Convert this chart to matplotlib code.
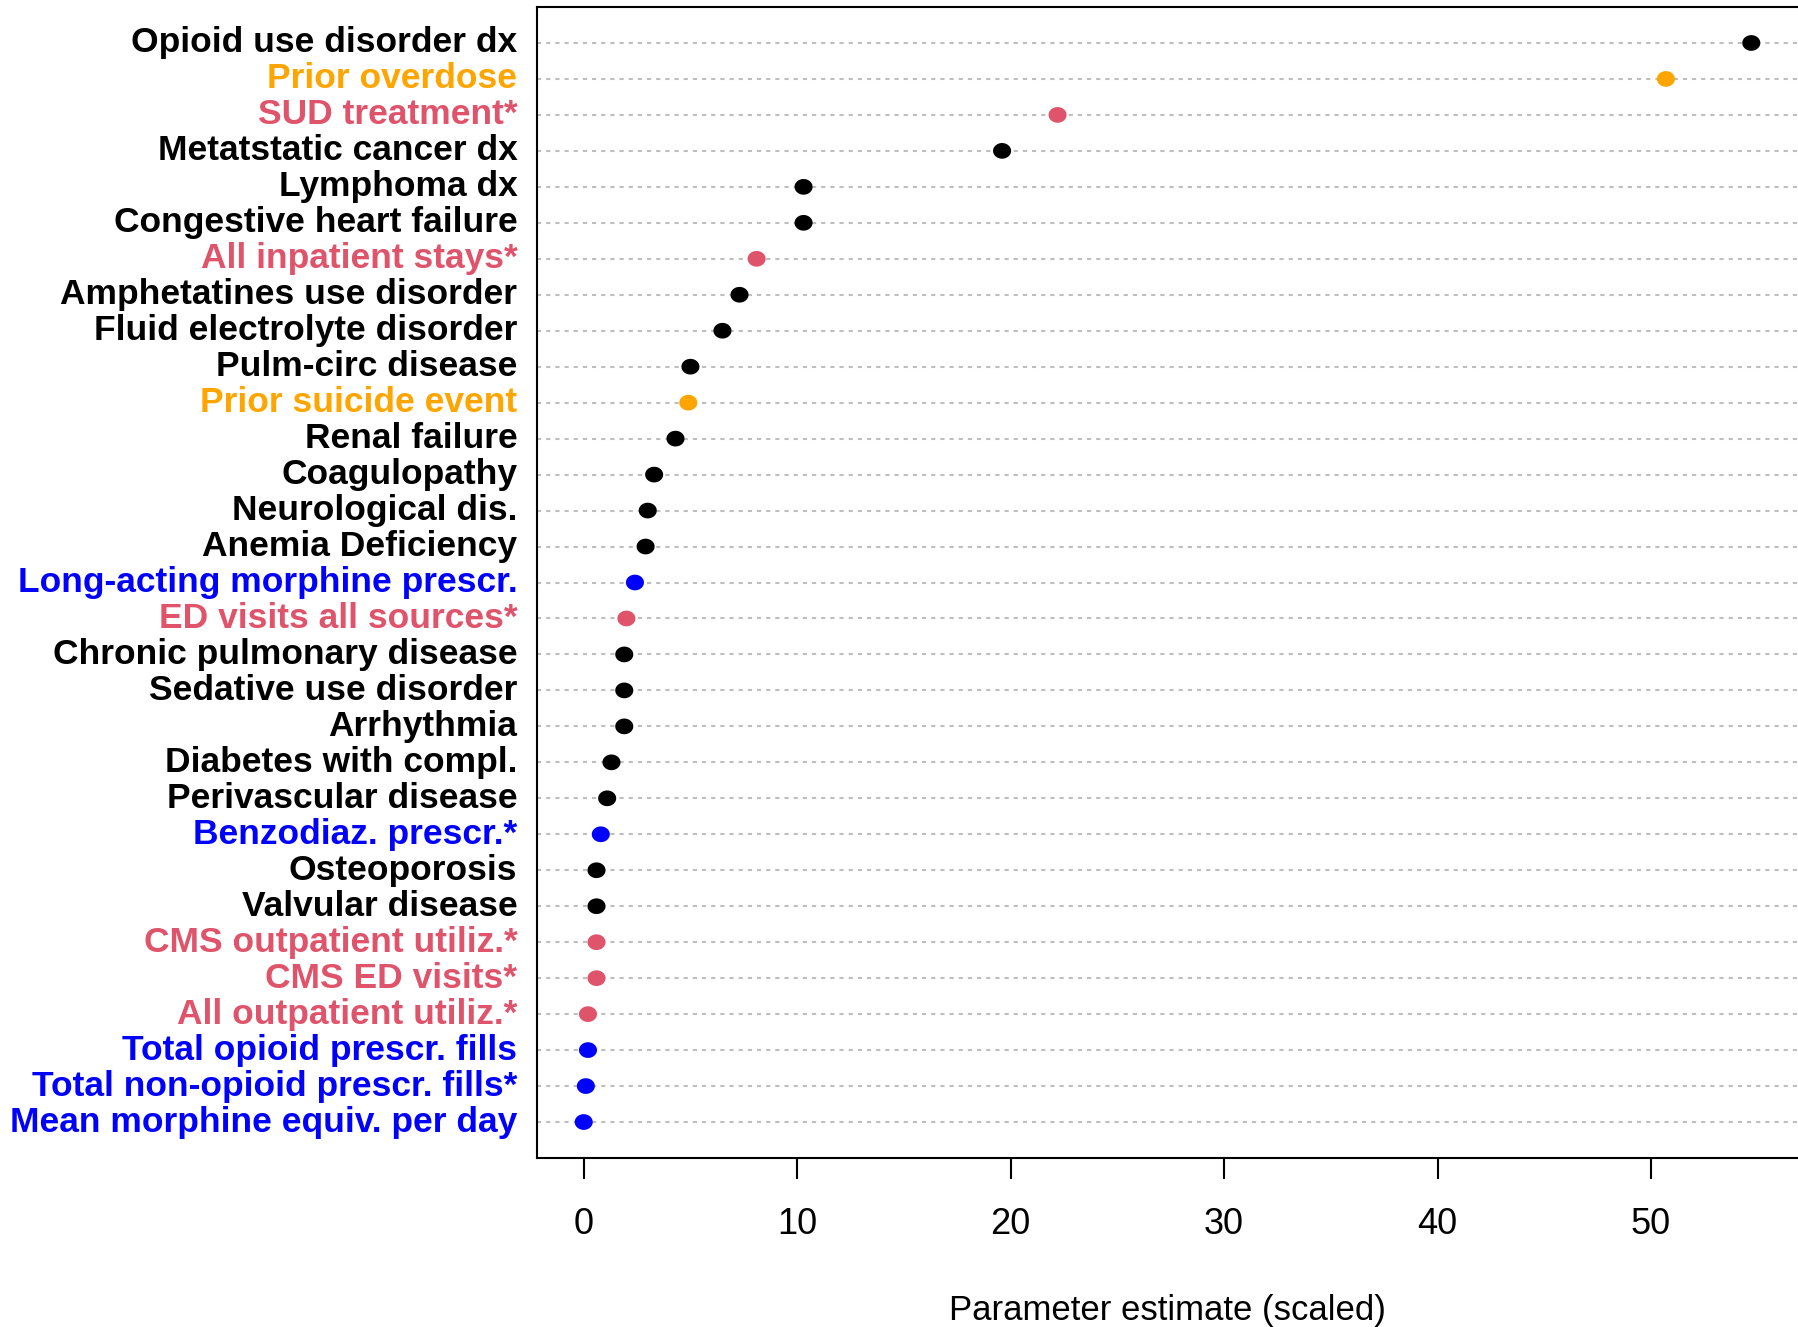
import numpy as np
import matplotlib
matplotlib.use('Agg')
import matplotlib.pyplot as plt
from matplotlib.path import Path

# rows from top to bottom
labels = [
    'Opioid use disorder dx', 'Prior overdose', 'SUD treatment*',
    'Metatstatic cancer dx', 'Lymphoma dx', 'Congestive heart failure',
    'All inpatient stays*', 'Amphetatines use disorder', 'Fluid electrolyte disorder',
    'Pulm-circ disease', 'Prior suicide event', 'Renal failure', 'Coagulopathy',
    'Neurological dis.', 'Anemia Deficiency', 'Long-acting morphine prescr.',
    'ED visits all sources*', 'Chronic pulmonary disease', 'Sedative use disorder',
    'Arrhythmia', 'Diabetes with compl.', 'Perivascular disease',
    'Benzodiaz. prescr.*', 'Osteoporosis', 'Valvular disease',
    'CMS outpatient utiliz.*', 'CMS ED visits*', 'All outpatient utiliz.*',
    'Total opioid prescr. fills', 'Total non-opioid prescr. fills*',
    'Mean morphine equiv. per day',
]
values = [
    54.7, 50.7, 22.2, 19.6, 10.3, 10.3, 8.1, 7.3, 6.5, 5.0, 4.9, 4.3, 3.3,
    3.0, 2.9, 2.4, 2.0, 1.9, 1.9, 1.9, 1.3, 1.1, 0.8, 0.6, 0.6, 0.6, 0.6,
    0.2, 0.2, 0.1, 0.0,
]
groups = [
    'dx', 'event', 'util', 'dx', 'dx', 'dx', 'util', 'dx', 'dx', 'dx', 'event',
    'dx', 'dx', 'dx', 'dx', 'rx', 'util', 'dx', 'dx', 'dx', 'dx', 'dx', 'rx',
    'dx', 'dx', 'util', 'util', 'util', 'rx', 'rx', 'rx',
]
xticks = [0, 10, 20, 30, 40, 50]
xlabel = 'Parameter estimate (scaled)'

group_colors = {'dx': 'black', 'event': '#FFA500', 'util': '#DF536B', 'rx': '#0000FF'}
font = ['Liberation Sans', 'DejaVu Sans']

W, H = 1798, 1327
fig = plt.figure(figsize=(W / 100, H / 100), dpi=100)
ax = fig.add_axes([537 / W, (H - 1158) / H, (W - 537) / W, (1158 - 7) / H])

n = len(labels)
ypos = np.arange(n, 0, -1)  # top row at n
colors = [group_colors[g] for g in groups]

# dotted guide lines like R dotchart
for y in ypos:
    ax.axhline(y, color='#BEBEBE', lw=1.5, dashes=(2, 2.4), zorder=1)

# slightly wide dot
t = np.linspace(0, 2 * np.pi, 60)
ellipse = Path(np.column_stack([1.15 * np.cos(t), np.sin(t)]))
ax.scatter(values, ypos, c=colors, marker=ellipse, s=13 ** 2, linewidths=0, zorder=3)

r = max(values) - min(values)
ax.set_xlim(min(values) - 0.04 * r, max(values) + 0.04 * r)
ax.set_ylim(0, n + 1)

ax.set_yticks([])
ax.set_xticks(xticks)
ax.set_xticklabels([str(v) for v in xticks], family=font, fontsize=26)
ax.tick_params(axis='x', length=15, width=1.5, pad=20)
ax.set_xlabel(xlabel, family=font, fontsize=25, labelpad=38)

for s in ['left', 'bottom', 'top']:
    ax.spines[s].set_linewidth(1.5)
ax.spines['right'].set_visible(False)

for lab, y, c in zip(labels, ypos, colors):
    ax.text(-0.0155, y, lab, transform=ax.get_yaxis_transform(), ha='right', va='center',
            fontsize=25.5, fontweight='bold', color=c, family=font)

fig.savefig('out.png', dpi=100)
